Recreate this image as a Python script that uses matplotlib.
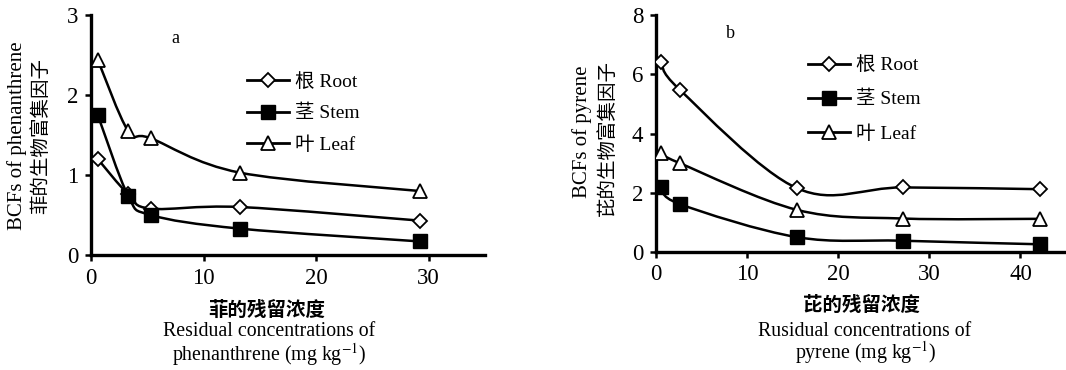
import matplotlib
matplotlib.use("Agg")
import matplotlib.pyplot as plt
import numpy as np
from matplotlib.path import Path
from matplotlib.patches import PathPatch
from matplotlib.lines import Line2D

plt.rcParams['font.family'] = ['Liberation Serif', 'Noto Sans CJK SC']
plt.rcParams['mathtext.fontset'] = 'stix'

# ---- data: panel a (phenanthrene) ----
a_x = [0.6, 3.3, 5.3, 13.2, 29.2]
a_root = [1.20, 0.76, 0.58, 0.60, 0.43]
a_stem = [1.75, 0.74, 0.50, 0.33, 0.17]
a_leaf = [2.44, 1.55, 1.46, 1.03, 0.80]

# ---- data: panel b (pyrene) ----
b_x = [0.6, 2.6, 15.5, 27.1, 42.2]
b_root = [6.42, 5.48, 2.15, 2.18, 2.12]
b_stem = [2.20, 1.62, 0.50, 0.38, 0.26]
b_leaf = [3.33, 3.00, 1.42, 1.13, 1.12]

series_labels = ['根 Root', '茎 Stem', '叶 Leaf']
a_yticks = [0, 1, 2, 3]
a_xticks = [0, 10, 20, 30]
b_yticks = [0, 2, 4, 6, 8]
b_xticks = [0, 10, 20, 30, 40]

styles = [
    dict(marker='D', markersize=7, markerfacecolor='white', markeredgecolor='black', markeredgewidth=1.3),
    dict(marker='s', markersize=9.5, markerfacecolor='black', markeredgecolor='black', markeredgewidth=1.0),
    dict(marker='^', markersize=10, markerfacecolor='white', markeredgecolor='black', markeredgewidth=1.3),
]


def smooth_path(x, y):
    pts = np.column_stack([x, y]).astype(float)
    n = len(pts)
    verts = [pts[0]]
    codes = [Path.MOVETO]
    for i in range(n - 1):
        p0 = pts[i - 1] if i > 0 else pts[i]
        p1 = pts[i]
        p2 = pts[i + 1]
        p3 = pts[i + 2] if i + 2 < n else pts[i + 1]
        c1 = p1 + (p2 - p0) / 6.0
        c2 = p2 - (p3 - p1) / 6.0
        verts += [c1, c2, p2]
        codes += [Path.CURVE4] * 3
    return Path(verts, codes)


def draw_panel(ax, x, ys, xlim, ylim, xticks, yticks, letter, letter_pos, leg_anchor, lspace):
    for y, st in zip(ys, styles):
        ax.add_patch(PathPatch(smooth_path(x, y), facecolor='none', edgecolor='black', lw=1.8, zorder=2))
        ax.plot(x, y, linestyle='none', zorder=3, **st)
    ax.set_xlim(*xlim)
    ax.set_ylim(*ylim)
    ax.set_xticks(xticks)
    ax.set_yticks(yticks)
    for s in ['top', 'right']:
        ax.spines[s].set_visible(False)
    for s in ['left', 'bottom']:
        ax.spines[s].set_linewidth(2.4)
    ax.tick_params(direction='out', length=4, width=1.8, labelsize=16.5, pad=5)
    ax.text(letter_pos[0], letter_pos[1], letter, fontsize=13, ha='center', va='center')
    handles = [Line2D([], [], color='black', lw=2.0, **st) for st in styles]
    ax.legend(handles, series_labels, loc='upper left', bbox_to_anchor=leg_anchor,
              frameon=False, fontsize=14, handlelength=2.2, handletextpad=0.3,
              labelspacing=lspace, borderpad=0, borderaxespad=0)


fig = plt.figure(figsize=(10.66, 3.70), dpi=100)
ax1 = fig.add_axes([91 / 1066, 1 - 255 / 370, 394 / 1066, 240 / 370])
ax2 = fig.add_axes([656 / 1066, 1 - 252 / 370, 410 / 1066, 237 / 370])

draw_panel(ax1, a_x, [a_root, a_stem, a_leaf], (0, 35), (0, 3), a_xticks, a_yticks,
           'a', (7.5, 2.71), (0.395, 0.757), 0.7)
draw_panel(ax2, b_x, [b_root, b_stem, b_leaf], (0, 45), (0, 8), b_xticks, b_yticks,
           'b', (8.2, 7.38), (0.37, 0.825), 0.85)

W, H = 1066, 370
def ftext(px, py, s, **kw):
    fig.text(px / W, 1 - py / H, s, ha='center', va='center', **kw)

ftext(17, 136, 'BCFs of phenanthrene', rotation=90, fontsize=15)
ftext(41, 136, '菲的生物富集因子', rotation=90, fontsize=14)
ftext(582, 132, 'BCFs of pyrene', rotation=90, fontsize=15)
ftext(607, 138, '芘的生物富集因子', rotation=90, fontsize=14)

ftext(267, 310, '菲的残留浓度', fontsize=14, fontweight='bold')
ftext(269, 332, 'Residual concentrations of', fontsize=14.3)
ftext(269, 355, 'phenanthrene (mg kg$^{-1}$)', fontsize=14.3)
ftext(861, 305, '芘的残留浓度', fontsize=14, fontweight='bold')
ftext(865, 331, 'Rusidual concentrations of', fontsize=14.3)
ftext(866, 353, 'pyrene (mg kg$^{-1}$)', fontsize=14.3)

fig.savefig('out.png', dpi=100)
